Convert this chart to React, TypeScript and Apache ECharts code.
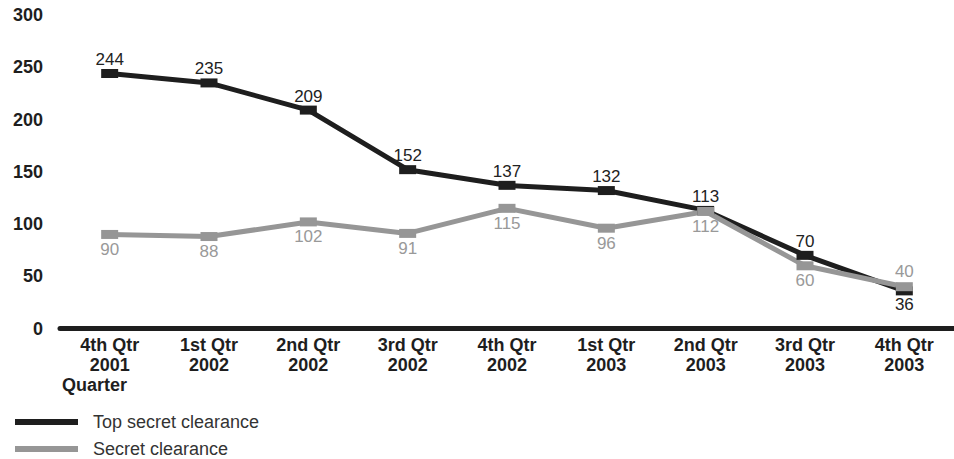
import React, { useEffect, useRef } from "react";
import * as echarts from "echarts";

const categories = [
  "4th Qtr\n2001",
  "1st Qtr\n2002",
  "2nd Qtr\n2002",
  "3rd Qtr\n2002",
  "4th Qtr\n2002",
  "1st Qtr\n2003",
  "2nd Qtr\n2003",
  "3rd Qtr\n2003",
  "4th Qtr\n2003",
];
const topSecret = [244, 235, 209, 152, 137, 132, 113, 70, 36];
const secret = [90, 88, 102, 91, 115, 96, 112, 60, 40];
// label placement per point ("top" or "bottom")
const topSecretLabelPos = ["top", "top", "top", "top", "top", "top", "top", "top", "bottom"];
const secretLabelPos = ["bottom", "bottom", "bottom", "bottom", "bottom", "bottom", "bottom", "bottom", "top"];
const yTicks = { min: 0, max: 300, interval: 50 };

const FONT = '"Liberation Sans", Arial, Helvetica, sans-serif';
const DARK = "#1e1e1e";
const GRAY = "#969696";

export default function App() {
  const ref = useRef<HTMLDivElement>(null);
  useEffect(() => {
    if (!ref.current) return;
    const chart = echarts.init(ref.current, null, { renderer: "svg" });
    const mk = (vals: number[], pos: string[]) =>
      vals.map((v, i) => ({ value: v, label: { position: pos[i] } }));
    chart.setOption({
      animation: false,
      textStyle: { fontFamily: FONT },
      grid: { left: 60, width: 900, top: 15, height: 313.5 },
      xAxis: {
        type: "category",
        data: categories,
        boundaryGap: true,
        offset: 2,
        axisLine: { show: true, lineStyle: { color: DARK, width: 5 } },
        axisTick: { show: false },
        splitLine: { show: false },
        axisLabel: {
          interval: 0,
          margin: 4,
          fontFamily: FONT,
          fontSize: 18,
          fontWeight: "bold",
          lineHeight: 20,
          color: DARK,
        },
      },
      yAxis: {
        type: "value",
        min: yTicks.min,
        max: yTicks.max,
        interval: yTicks.interval,
        axisLine: { show: false },
        axisTick: { show: false },
        splitLine: { show: false },
        axisLabel: {
          margin: 17,
          fontFamily: FONT,
          fontSize: 18,
          fontWeight: "bold",
          color: DARK,
        },
      },
      legend: {
        orient: "vertical",
        left: 15,
        top: 413,
        padding: 0,
        icon: "rect",
        itemWidth: 63,
        itemHeight: 6,
        itemGap: 9,
        textStyle: {
          fontFamily: FONT,
          fontSize: 18,
          lineHeight: 18,
          color: "#333",
          padding: [0, 0, 0, 10],
        },
        data: ["Top secret clearance", "Secret clearance"],
      },
      graphic: [
        {
          type: "text",
          left: 62,
          top: 376,
          style: {
            text: "Quarter",
            fontFamily: FONT,
            fontSize: 18,
            fontWeight: "bold",
            fill: DARK,
          },
        },
      ],
      series: [
        {
          name: "Top secret clearance",
          type: "line",
          data: mk(topSecret, topSecretLabelPos),
          symbol: "rect",
          symbolSize: [17, 9],
          lineStyle: { color: DARK, width: 5 },
          itemStyle: { color: DARK },
          label: {
            show: true,
            distance: 1,
            fontFamily: FONT,
            fontSize: 17,
            color: "#222",
          },
        },
        {
          name: "Secret clearance",
          type: "line",
          data: mk(secret, secretLabelPos),
          symbol: "rect",
          symbolSize: [17, 9],
          lineStyle: { color: GRAY, width: 5 },
          itemStyle: { color: GRAY },
          label: {
            show: true,
            distance: 2,
            fontFamily: FONT,
            fontSize: 17,
            color: "#999",
          },
        },
      ],
    });
    return () => chart.dispose();
  }, []);
  return (
    <div
      ref={ref}
      style={{ position: "fixed", left: 0, top: 0, width: 954, height: 459, background: "#fff" }}
    />
  );
}
